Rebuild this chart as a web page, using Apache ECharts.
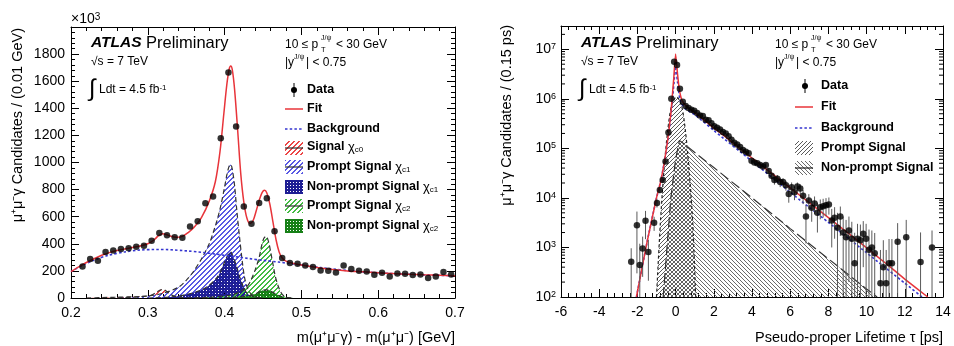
<!DOCTYPE html>
<html><head><meta charset="utf-8">
<script src="https://cdn.jsdelivr.net/npm/echarts@6/dist/echarts.min.js"></script>
<style>html,body{margin:0;padding:0;background:#fff}#c{width:954px;height:346px}</style>
</head><body><div id="c"></div><script>
// ---------------- LEFT PANEL DATA (mass difference) ----------------
const massX = [0.215,0.225,0.235,0.245,0.255,0.265,0.275,0.285,0.295,0.305,
  0.315,0.325,0.335,0.345,0.355,0.365,0.375,0.385,0.395,0.405,
  0.415,0.425,0.435,0.445,0.455,0.465,0.475,0.485,0.495,0.505,
  0.515,0.525,0.535,0.545,0.555,0.565,0.575,0.585,0.595,0.605,
  0.615,0.625,0.635,0.645,0.655,0.665,0.675,0.685,0.695];
const massY = [233,287,275,339,351,361,368,378,385,422,
  479,464,449,444,528,567,700,749,1179,1665,
  1265,675,548,702,736,492,295,259,253,240,
  228,203,201,189,240,214,201,196,172,186,
  159,181,179,169,174,147,159,192,174];
const massFitX = [0.200,0.210,0.220,0.230,0.240,0.250,0.260,0.270,0.280,0.290,0.300,0.308,0.314,0.319,0.324,0.330,0.337,0.345,0.353,0.360,0.370,0.380,0.388,0.394,0.399,0.403,0.406,0.408,0.410,0.413,0.417,0.421,0.425,0.429,0.433,0.437,0.441,0.445,0.449,0.452,0.455,0.459,0.463,0.467,0.471,0.475,0.480,0.490,0.500,0.520,0.540,0.560,0.580,0.600,0.620,0.640,0.660,0.680,0.700];
const massFitY = [195,230,262,290,315,335,350,362,373,384,400,428,460,474,468,455,448,455,485,520,595,715,860,1080,1360,1580,1690,1712,1685,1540,1240,920,710,590,550,570,640,720,780,795,775,690,560,430,340,295,272,255,243,225,211,200,193,186,180,175,171,168,165];
const massBgX = [0.20,0.22,0.24,0.26,0.28,0.30,0.32,0.34,0.36,0.38,0.40,0.42,0.44,0.46,0.48,0.50,0.55,0.60,0.65,0.70];
const massBgY = [195,255,300,330,348,357,358,352,343,330,315,300,285,272,258,243,208,186,173,164];
const chic0X = [0.22,0.24,0.26,0.28,0.29,0.30,0.305,0.31,0.315,0.318,0.322,0.326,0.33,0.335,0.34,0.35,0.36,0.38];
const chic0Y = [0,3,6,9,11,15,22,38,55,62,58,42,25,12,6,3,1,0];
const chic1PX = [0.25,0.28,0.30,0.32,0.34,0.35,0.36,0.37,0.38,0.385,0.39,0.395,0.40,0.403,0.406,0.408,0.41,0.413,0.416,0.42,0.423,0.426,0.43,0.435,0.44,0.45];
const chic1PY = [0,5,15,35,80,130,200,290,400,480,570,680,820,910,975,985,950,830,640,420,270,150,70,25,8,0];
const chic1NX = [0.30,0.33,0.35,0.37,0.38,0.39,0.395,0.40,0.405,0.408,0.41,0.415,0.42,0.425,0.43,0.44,0.45];
const chic1NY = [0,8,25,60,95,150,200,265,325,340,320,245,150,75,30,6,0];
const chic2PX = [0.36,0.38,0.40,0.41,0.42,0.43,0.435,0.44,0.445,0.448,0.451,0.454,0.457,0.46,0.463,0.466,0.47,0.474,0.478,0.482,0.49];
const chic2PY = [0,5,15,25,45,90,140,210,300,380,440,455,420,340,250,160,85,35,12,3,0];
const chic2NX = [0.40,0.42,0.43,0.44,0.445,0.45,0.455,0.46,0.465,0.47,0.475,0.48,0.49];
const chic2NY = [0,8,15,30,45,58,60,50,35,20,8,2,0];
const massTicks = [0.2,0.3,0.4,0.5,0.6,0.7];

// ---------------- RIGHT PANEL DATA (pseudo-proper lifetime) ----------------
const tauX = [-2.325,-2.025,-1.875,-1.725,-1.575,-1.425,-1.125,-0.975,-0.825,-0.675,-0.525,-0.375,-0.225,-0.075,0.075,0.225,
  0.375,0.525,0.675,0.825,0.975,1.125,1.275,1.425,1.575,1.725,1.875,2.025,2.175,2.325,2.475,2.625,2.775,2.925,3.075,3.225,
  3.375,3.525,3.675,3.825,3.975,4.125,4.275,4.425,4.575,4.725,4.875,5.025,5.175,5.325,5.475,5.625,5.775,5.925,6.075,6.225,
  6.375,6.525,6.675,6.825,6.975,7.125,7.275,7.425,7.575,7.725,7.875,8.025,8.175,8.325,8.475,8.625,8.775,8.925,9.075,9.225,
  9.375,9.525,9.675,9.825,9.975,10.125,10.275,10.425,10.725,10.875,11.025,11.175,11.325,11.625,12.075,12.825,13.425];
const tauY = [513,2800,440,955,3470,813,3160,7900,14500,23000,54000,210000,1.0e6,5.6e6,4.8e6,1.6e6,
  8.7e5,7.2e5,6.5e5,6.0e5,5.75e5,5.2e5,4.6e5,4.5e5,3.8e5,3.7e5,3.2e5,2.8e5,2.6e5,2.4e5,2.15e5,2.0e5,1.75e5,1.5e5,1.3e5,1.2e5,
  1.07e5,9.3e4,8.5e4,8.0e4,5.6e4,5.2e4,5.0e4,4.6e4,4.3e4,4.6e4,3.5e4,2.8e4,2.3e4,2.45e4,2.1e4,2.1e4,1.8e4,1.2e4,1.65e4,1.3e4,
  1.7e4,1.55e4,1.1e4,4.2e3,8.9e3,6.3e3,7.7e3,5.0e3,6.5e3,6.8e3,7.1e3,7.4e3,3.5e3,4.0e3,2.5e3,4.2e3,2.0e3,1.6e3,2.2e3,1.5e3,
  480,1.5e3,1.4e3,1.9e3,1.5e3,900,1000,760,190,400,190,480,480,1300,1600,510,1000];
const tauErr = [450,2500,750,700,2000,600,1000,1500,2000,3000,4000,8000,2e4,5e4,5e4,3e4,
  2e4,1.8e4,1.6e4,1.5e4,1.4e4,1.3e4,1.2e4,1.1e4,1e4,1e4,9000,8500,8000,7500,7000,7000,6500,6000,6000,5500,
  5500,5000,5000,5000,4500,4500,4500,4500,4500,4500,4500,4500,4500,4500,4500,4000,4000,4000,4000,4000,
  3500,3500,3500,3000,3000,3000,3000,3000,2800,2800,2800,2800,2500,2500,2500,2500,2200,2000,2000,1800,
  1500,1500,1500,1500,1500,1400,1200,1200,700,1000,700,1000,1000,1800,2000,1500,1200];
const tauFitX = [-2.05,-1.5,-1.0,-0.8,-0.6,-0.4,-0.25,-0.1,0,0.1,0.2,0.35,0.6,1,2,3,4,5,6,7,8,9,10,11,12,13.2];
const tauFitY = [100,1250,1.0e4,2.0e4,5.0e4,1.6e5,5e5,2.5e6,8e6,3.2e6,1.5e6,9e5,6.9e5,5.3e5,2.6e5,1.3e5,6.4e4,3.2e4,1.6e4,8e3,4e3,2e3,980,480,230,100];
const tauBgX = [-2.05,-1.5,-1.0,-0.8,-0.6,-0.4,-0.25,-0.1,0,0.1,0.25,0.5,1,2,4,6,8,10,12,12.9];
const tauBgY = [100,1250,1.0e4,2.0e4,5e4,1.5e5,4.5e5,1.8e6,4.5e6,2.2e6,9e5,6.3e5,4.8e5,2.3e5,5.5e4,1.3e4,3.2e3,780,190,100];
const promptX = [-1.0,-0.8,-0.6,-0.4,-0.2,0.05,0.3,0.5,0.7,0.9,1.05];
const promptY = [100,3e3,4e4,2.5e5,7.6e5,1.1e6,7.6e5,2.5e5,4e4,3e3,100];
const nonpromptX = [-0.65,-0.45,-0.25,0,0.2,2,4,6,8,10,10.55];
const nonpromptY = [100,1e3,1e4,6e4,1.45e5,4.1e4,1e4,2.4e3,590,145,100];
const tauTicks = [-6,-4,-2,0,2,4,6,8,10,12,14];

// ---------------- helpers ----------------
const FONT = '"Liberation Sans", Arial, Helvetica, sans-serif';
const zip = (xs, ys) => xs.map((x, i) => [x, ys[i]]);
function hatch(color, dir, s, lw) {
  const c = document.createElement('canvas'); c.width = s; c.height = s;
  const g = c.getContext('2d');
  g.fillStyle = color;
  for (let i = 0; i < s; i++) {
    for (let j = 0; j < lw; j++) {
      const x = dir === '/' ? ((s - 1 - i + j) % s) : ((i + j) % s);
      g.fillRect(x, i, 1, 1);
    }
  }
  return { image: c, repeat: 'repeat' };
}
function gridPat(color, s, lw) {
  const c = document.createElement('canvas'); c.width = s; c.height = s;
  const g = c.getContext('2d');
  g.fillStyle = color; g.fillRect(0, 0, s, lw); g.fillRect(0, 0, lw, s);
  return { image: c, repeat: 'repeat' };
}
const P = {
  red: hatch('#ec4646', '/', 5, 2),
  blue: hatch('#5a5ae4', '/', 5, 2),
  dblue: gridPat('#1e1e94', 3, 2),
  green: hatch('#44bb44', '/', 5, 2),
  dgreen: gridPat('#178017', 3, 2),
  gPrompt: hatch('#5a5a5a', '/', 4, 1),
  gNon: hatch('#6a6a6a', '\\', 4, 1)
};
const logMinor = [];
for (let e = 2; e <= 7; e++) for (let m = 2; m <= 9; m++) { const v = m * Math.pow(10, e); if (v < 2.9e7) logMinor.push(v); }

function T(x, y, text, size, extra) {
  return { type: 'text', x, y, silent: true, z: 100,
    style: Object.assign({ text, fontSize: size, fontFamily: FONT, fill: '#000',
      align: 'left', verticalAlign: 'middle', textAlign: 'left', textVerticalAlign: 'middle' }, extra || {}) };
}
function L(x1, y1, x2, y2, stroke, lw, dash) {
  return { type: 'line', silent: true, z: 100, shape: { x1, y1, x2, y2 }, style: { stroke, lineWidth: lw, lineDash: dash || null } };
}
function R(x, y, w, h, fill) {
  return { type: 'rect', silent: true, z: 100, shape: { x, y, width: w, height: h }, style: { fill, stroke: null } };
}
const supRich = {
  s: { fontSize: 8, fontFamily: FONT, verticalAlign: 'top', lineHeight: 9 },
  c: { fontSize: 13, fontFamily: FONT, fontWeight: 'normal' },
  d: { fontSize: 8, fontFamily: FONT, fontWeight: 'normal', verticalAlign: 'bottom', lineHeight: 8 }
};
function header(dx) {
  return [
    T(91 + dx, 43, 'ATLAS', 15.5, { fontWeight: 'bold', fontStyle: 'italic' }),
    T(146 + dx, 43, 'Preliminary', 16.5),
    T(91 + dx, 62, '√s = 7 TeV', 12),
    T(89 + dx, 89, '∫', 24),
    T(99 + dx, 90, 'Ldt = 4.5 fb{s|-1}', 12, { rich: supRich }),
    T(285 + dx, 45, '10 ≤ p', 12),
    T(321 + dx, 38, 'J/ψ', 7),
    T(321 + dx, 50, 'T', 7.5),
    T(336 + dx, 45, '< 30 GeV', 12),
    T(285 + dx, 63, '|y', 12),
    T(294 + dx, 57, 'J/ψ', 7),
    T(306 + dx, 63, '| < 0.75', 12)
  ];
}
const LB = { fontWeight: 'bold' };
const LBR = Object.assign({ rich: supRich }, LB);
const leftLegend = [
  { type: 'circle', silent: true, z: 100, shape: { cx: 294, cy: 90, r: 3 }, style: { fill: '#000' } },
  L(294, 83, 294, 97, '#000', 1),
  T(307, 90, 'Data', 12.5, LB),
  L(285, 109, 303, 109, '#e8343a', 1.5),
  T(307, 109, 'Fit', 12.5, LB),
  L(285, 129, 303, 129, '#3535d0', 1.6, [2.5, 2.2]),
  T(307, 129, 'Background', 12.5, LB),
  R(285, 141, 18, 14, P.red), L(285, 148, 303, 148, '#333', 1.2),
  T(307, 147, 'Signal {c|χ}{d|c0}', 12.5, LBR),
  R(285, 160, 18, 14, P.blue), L(285, 167, 303, 167, '#333', 1.2),
  T(307, 167, 'Prompt Signal {c|χ}{d|c1}', 12.5, LBR),
  R(285, 180, 18, 14, P.dblue),
  T(307, 187, 'Non-prompt Signal {c|χ}{d|c1}', 12.5, LBR),
  R(285, 199, 18, 14, P.green), L(285, 206, 303, 206, '#333', 1.2),
  T(307, 206, 'Prompt Signal {c|χ}{d|c2}', 12.5, LBR),
  R(285, 219, 18, 14, P.dgreen),
  T(307, 226, 'Non-prompt Signal {c|χ}{d|c2}', 12.5, LBR)
];
const rightLegend = [
  { type: 'circle', silent: true, z: 100, shape: { cx: 805, cy: 86, r: 3 }, style: { fill: '#000' } },
  L(805, 79, 805, 93, '#000', 1),
  T(821, 86, 'Data', 12.5, LB),
  L(795, 107, 813, 107, '#e8343a', 1.5),
  T(821, 107, 'Fit', 12.5, LB),
  L(795, 128, 813, 128, '#3535d0', 1.6, [2.5, 2.2]),
  T(821, 128, 'Background', 12.5, LB),
  R(795, 141, 18, 14, P.gPrompt),
  T(821, 148, 'Prompt Signal', 12.5, LB),
  R(795, 161, 18, 14, P.gNon), L(795, 168, 813, 168, '#222', 1.2),
  T(821, 168, 'Non-prompt Signal', 12.5, LB)
];
const titles = [
  T(18, 28, 'μ⁺μ⁻γ Candidates / (0.01 GeV)', 14.5, { align: 'right', textAlign: 'right' }),
  T(507, 25, 'μ⁺μ⁻γ Candidates / (0.15 ps)', 14.5, { align: 'right', textAlign: 'right' }),
  T(455, 338, 'm(μ⁺μ⁻γ) - m(μ⁺μ⁻) [GeV]', 14.5, { align: 'right', textAlign: 'right' }),
  T(943, 338, 'Pseudo-proper Lifetime τ [ps]', 14.5, { align: 'right', textAlign: 'right' }),
  T(71, 19, '×10{s|3}', 14, { rich: { s: { fontSize: 10, fontFamily: FONT, verticalAlign: 'top', lineHeight: 10 } } })
];
titles[0].rotation = Math.PI / 2;
titles[1].rotation = Math.PI / 2;

// ---------------- axes ----------------
const tickStyle = { lineStyle: { color: '#000', width: 1 } };
function valAxis(o) {
  return Object.assign({
    type: 'value', splitLine: { show: false },
    axisLine: { show: true, onZero: false, lineStyle: { color: '#000', width: 1 } },
    axisTick: Object.assign({ show: true, inside: true, length: 8 }, tickStyle),
    minorTick: Object.assign({ show: true, splitNumber: 5, length: 4 }, tickStyle),
    axisLabel: { show: false }
  }, o);
}
const lblStyle = { color: '#000', fontSize: 14, fontFamily: FONT };
const xAxes = [
  valAxis({ gridIndex: 0, position: 'bottom', min: massTicks[0], max: massTicks[massTicks.length - 1], interval: 0.1,
    axisLabel: Object.assign({ show: true, margin: 8, formatter: v => v.toFixed(1) }, lblStyle) }),
  valAxis({ gridIndex: 0, position: 'top', min: 0.2, max: 0.7, interval: 0.1 }),
  valAxis({ gridIndex: 1, position: 'bottom', min: tauTicks[0], max: tauTicks[tauTicks.length - 1], interval: 2,
    axisLabel: Object.assign({ show: true, margin: 8, formatter: v => String(v) }, lblStyle) }),
  valAxis({ gridIndex: 1, position: 'top', min: -6, max: 14, interval: 2 })
];
const logLabel = v => {
  const l = Math.log10(v), e = Math.round(l);
  if (Math.abs(l - e) > 1e-6) return '';
  return '{b|10}{s|' + e + '}';
};
const yAxes = [
  valAxis({ gridIndex: 0, position: 'left', min: 0, max: 2000, interval: 200,
    axisLabel: Object.assign({ show: true, margin: 6, showMaxLabel: false, formatter: v => String(v) }, lblStyle) }),
  valAxis({ gridIndex: 0, position: 'right', min: 0, max: 2000, interval: 200 }),
  { type: 'log', logBase: 10, gridIndex: 1, position: 'left', min: 100, max: 2.95e7, splitLine: { show: false },
    axisLine: { show: true, onZero: false, lineStyle: { color: '#000', width: 1 } },
    axisTick: Object.assign({ show: true, inside: true, length: 8 }, tickStyle),
    minorTick: { show: false },
    axisLabel: { show: true, margin: 5, showMaxLabel: false, formatter: logLabel,
      rich: { b: { fontSize: 14, fontFamily: FONT, color: '#000' },
              s: { fontSize: 9, fontFamily: FONT, color: '#000', verticalAlign: 'top', lineHeight: 9 } } } },
  { type: 'log', logBase: 10, gridIndex: 1, position: 'right', min: 100, max: 2.95e7, splitLine: { show: false },
    axisLine: { show: true, onZero: false, lineStyle: { color: '#000', width: 1 } },
    axisTick: Object.assign({ show: true, inside: true, length: 8 }, tickStyle),
    minorTick: { show: false }, axisLabel: { show: false } }
];

// ---------------- series ----------------
function area(data, fill, xi, yi, outline, dash, smooth) {
  return { type: 'line', xAxisIndex: xi, yAxisIndex: yi, data, smooth: smooth, showSymbol: false, silent: true,
    lineStyle: { color: outline, width: 1.2, type: dash }, areaStyle: { color: fill, opacity: 1, origin: 'start' }, z: 2 };
}
const series = [
  area(zip(chic0X, chic0Y), P.red, 0, 0, '#333', [5, 3], 0.3),
  area(zip(chic1PX, chic1PY), P.blue, 0, 0, '#333', [5, 3], 0.3),
  area(zip(chic1NX, chic1NY), P.dblue, 0, 0, '#333', [5, 3], 0.3),
  area(zip(chic2PX, chic2PY), P.green, 0, 0, '#333', [5, 3], 0.3),
  area(zip(chic2NX, chic2NY), P.dgreen, 0, 0, '#333', [5, 3], 0.3),
  { type: 'line', xAxisIndex: 0, yAxisIndex: 0, data: zip(massBgX, massBgY), smooth: 0.4, showSymbol: false, silent: true,
    lineStyle: { color: '#3535d0', width: 1.6, type: [2.5, 2.2] }, z: 4 },
  { type: 'line', xAxisIndex: 0, yAxisIndex: 0, data: zip(massFitX, massFitY), smooth: 0.3, showSymbol: false, silent: true,
    lineStyle: { color: '#e8343a', width: 1.5 }, z: 5 },
  { type: 'scatter', xAxisIndex: 0, yAxisIndex: 0, data: zip(massX, massY), symbol: 'circle', symbolSize: 6.5, silent: true,
    itemStyle: { color: '#000' }, z: 7 },

  area(zip(promptX, promptY), P.gPrompt, 2, 2, '#222', [3, 2.5], 0.3),
  area(zip(nonpromptX, nonpromptY), P.gNon, 2, 2, '#333', [10, 4], false),
  { type: 'line', xAxisIndex: 2, yAxisIndex: 2, data: zip(tauBgX, tauBgY), smooth: 0.2, showSymbol: false, silent: true,
    lineStyle: { color: '#3535d0', width: 1.6, type: [2.5, 2.2] }, z: 4 },
  { type: 'line', xAxisIndex: 2, yAxisIndex: 2, data: zip(tauFitX, tauFitY), smooth: 0.15, showSymbol: false, silent: true,
    lineStyle: { color: '#e8343a', width: 1.5 }, z: 5 },
  { type: 'custom', xAxisIndex: 2, yAxisIndex: 2, silent: true, z: 6,
    data: tauX.map((x, i) => [x, tauY[i], tauErr[i]]),
    renderItem: (p, api) => {
      const x = api.value(0), y = api.value(1), e = api.value(2);
      const lo = Math.max(y - e, 100), hi = Math.min(y + e, 2.9e7);
      const a = api.coord([x, lo]), b = api.coord([x, hi]);
      return { type: 'line', shape: { x1: a[0], y1: a[1], x2: b[0], y2: b[1] }, style: { stroke: '#5a5a5a', lineWidth: 1 } };
    } },
  { type: 'scatter', xAxisIndex: 2, yAxisIndex: 2, data: zip(tauX, tauY), symbol: 'circle', symbolSize: 6.5, silent: true,
    itemStyle: { color: '#000' }, z: 7 },
  { type: 'custom', xAxisIndex: 2, yAxisIndex: 2, silent: true, z: 8, clip: false,
    data: logMinor.map(v => [-6, v]),
    renderItem: (p, api) => {
      const v = api.value(1);
      const a = api.coord([-6, v]), b = api.coord([14, v]);
      return { type: 'group', children: [
        { type: 'line', shape: { x1: a[0], y1: a[1], x2: a[0] + 4, y2: a[1] }, style: { stroke: '#000', lineWidth: 1 } },
        { type: 'line', shape: { x1: b[0] - 4, y1: b[1], x2: b[0], y2: b[1] }, style: { stroke: '#000', lineWidth: 1 } }
      ] };
    } }
];

const chart = echarts.init(document.getElementById('c'), null, { renderer: 'canvas' });
chart.setOption({
  animation: false,
  backgroundColor: '#fff',
  grid: [{ left: 71, right: 499, top: 27, bottom: 48 }, { left: 561, right: 11, top: 26, bottom: 49 }],
  xAxis: xAxes, yAxis: yAxes, series,
  graphic: { elements: [].concat(header(0), header(490), leftLegend, rightLegend, titles) }
});
</script></body></html>
